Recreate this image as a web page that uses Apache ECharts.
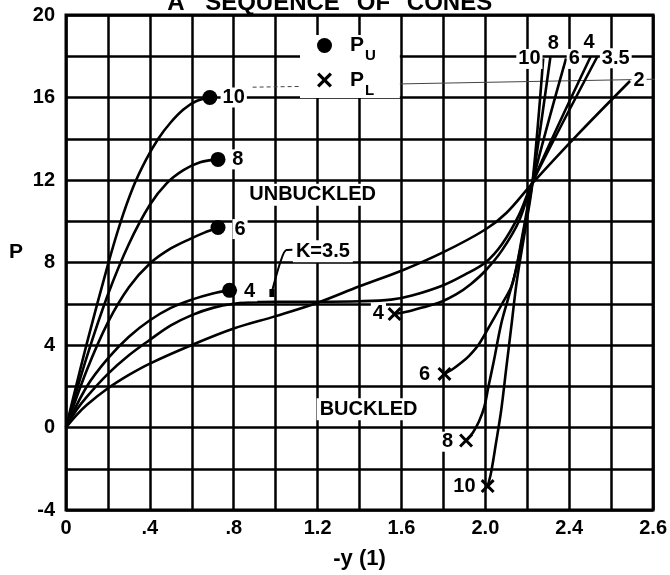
<!DOCTYPE html>
<html><head><meta charset="utf-8">
<script src="https://cdn.jsdelivr.net/npm/echarts@6/dist/echarts.min.js"></script>
<style>html,body{margin:0;padding:0;background:#fff}#c{width:670px;height:575px}</style>
</head><body><div id="c"></div>
<script>
// ---- tick labels (note: the original sheet prints "2.6" at the right edge) ----
const xTickLabels = ['0', '.4', '.8', '1.2', '1.6', '2.0', '2.4', '2.6'];
const yTickLabels = ['-4', '0', '4', '8', '12', '16', '20'];

// ---- upper (unbuckled) branches, ending at P_U ----
const k10Upper = [[0,0],[0.1,4.1],[0.2,7.9],[0.26,9.95],[0.32,11.65],[0.38,12.95],[0.44,14.0],[0.5,14.8],[0.56,15.42],[0.62,15.82],[0.686,16]];
const k8Upper  = [[0,0],[0.1,3.45],[0.2,6.45],[0.3,8.9],[0.4,10.8],[0.48,11.84],[0.56,12.48],[0.64,12.86],[0.725,13]];
const k6Upper  = [[0,0],[0.1,2.8],[0.2,5.1],[0.3,6.8],[0.4,7.95],[0.5,8.68],[0.6,9.18],[0.66,9.45],[0.725,9.7]];
const k4Upper  = [[0,0],[0.1,2.0],[0.2,3.35],[0.3,4.4],[0.4,5.2],[0.5,5.8],[0.6,6.2],[0.7,6.5],[0.78,6.65]];

// ---- lower (buckled) branches, starting at P_L ----
const k4Lower  = [[1.567,5.5],[1.63,5.62],[1.7,5.82],[1.79,6.1],[1.86,6.45],[1.93,6.95],[2.0,7.6],[2.08,8.6],[2.16,10.0],[2.225,11.9],[2.503,18.0]];
const k6Lower  = [[1.805,2.6],[1.84,2.8],[1.88,3.1],[1.92,3.45],[1.97,4.05],[2.03,5.1],[2.08,6.0],[2.13,7.0],[2.18,9.5],[2.225,11.9],[2.385,17.9]];
const k8Lower  = [[1.908,-0.63],[1.94,-0.25],[1.97,0.3],[1.995,1.0],[2.015,2.0],[2.04,3.2],[2.075,5.0],[2.11,6.3],[2.145,7.6],[2.185,9.6],[2.225,11.9],[2.31,17.95]];
const k10Lower = [[2.011,-2.84],[2.027,-2.2],[2.05,-0.8],[2.075,0.8],[2.1,2.9],[2.125,5.0],[2.15,7.1],[2.19,9.6],[2.225,11.9],[2.276,17.9]];

// ---- continuous curves ----
const k35Curve = [[0,0],[0.05,0.85],[0.1,1.5],[0.2,2.6],[0.3,3.5],[0.4,4.25],[0.5,4.95],[0.6,5.45],[0.7,5.8],[0.8,6.0],[0.9,6.08],[1.0,6.1],[1.2,6.1],[1.4,6.12],[1.55,6.2],[1.65,6.4],[1.8,6.9],[1.9,7.4],[2.0,8.0],[2.08,8.9],[2.16,10.3],[2.225,11.9],[2.535,18.0]];
const k2Curve  = [[0,0],[0.05,0.6],[0.1,1.1],[0.2,1.9],[0.3,2.55],[0.4,3.1],[0.6,4.0],[0.8,4.8],[1.0,5.4],[1.2,6.05],[1.4,6.85],[1.6,7.6],[1.8,8.5],[2.0,9.6],[2.1,10.4],[2.225,11.85],[2.44,14.2],[2.69,16.8]];

// ---- critical points ----
const puX = [0.686, 0.725, 0.725, 0.78];
const puY = [16, 13, 9.7, 6.65];
const plX = [1.567, 1.805, 1.908, 2.011];
const plY = [5.5, 2.6, -0.63, -2.84];

// ---- annotation texts ----
const curveLabelText = ['10','8','6','4','4','6','8','10','10','8','6','4','3.5','2'];
const curveLabelPos  = [[0.80,16.0],[0.82,13.0],[0.83,9.62],[0.876,6.6],[1.49,5.55],[1.71,2.55],[1.82,-0.69],[1.90,-2.86],[2.21,17.87],[2.324,18.6],[2.424,17.87],[2.495,18.65],[2.622,17.9],[2.733,16.83]];
const regionLabelText = ['UNBUCKLED', 'BUCKLED', 'K=3.5'];
const regionLabelPos  = [[1.176,11.29],[1.443,0.88],[1.225,8.55]];
const leaderK35 = [[1.08,8.62],[1.05,8.6],[1.025,8.1],[0.985,6.7]];
const leaderTip = [[0.982,6.52]];
const scanLineA = [[0.89,16.5],[1.2,16.55]];
const scanLineB = [[1.28,16.6],[2.876,16.9]];
const titleWords = ['A', 'SEQUENCE', 'OF', 'CONES'];

const FONT = 'Liberation Sans';
const xPath = 'path://M0,1.5L1.5,0L5,3.5L8.5,0L10,1.5L6.5,5L10,8.5L8.5,10L5,6.5L1.5,10L0,8.5L3.5,5Z';
const lineStyleCurve = { color: '#000', width: 2.6 };
const titleCenters = [176, 272.5, 373.5, 449.5];

function curve(data, extra) {
  return Object.assign({
    type: 'line', data: data, smooth: 0.35, symbol: 'none', silent: true,
    lineStyle: lineStyleCurve, z: 3, animation: false
  }, extra || {});
}
function zip(xs, ys) { return xs.map((x, i) => [x, ys[i]]); }

const labelBase = {
  show: true, position: 'inside', color: '#000', opacity: 1, fontFamily: FONT, fontWeight: 'bold',
  fontSize: 20, backgroundColor: '#fff', padding: [0, 2], formatter: p => p.name
};

const chart = echarts.init(document.getElementById('c'), null, { renderer: 'canvas' });
chart.setOption({
  animation: false,
  backgroundColor: '#fff',
  grid: { left: 66, right: 16, top: 15, bottom: 53, show: true, borderColor: '#000', borderWidth: 3 },
  xAxis: {
    type: 'value', min: 0, max: 2.8, interval: 0.2,
    axisLine: { show: false }, axisTick: { show: false },
    splitLine: { show: true, lineStyle: { color: '#000', width: 2.5 } },
    axisLabel: {
      color: '#000', fontFamily: FONT, fontWeight: 'bold', fontSize: 20, margin: 8,
      showMinLabel: true, showMaxLabel: true,
      formatter: v => { const i = Math.round(v / 0.2); return i % 2 ? '' : xTickLabels[i / 2]; }
    },
    name: '-y (1)', nameLocation: 'middle', nameGap: 38,
    nameTextStyle: { color: '#000', fontFamily: FONT, fontWeight: 'bold', fontSize: 22 }
  },
  yAxis: {
    type: 'value', min: -4, max: 20, interval: 2,
    axisLine: { show: false }, axisTick: { show: false },
    splitLine: { show: true, lineStyle: { color: '#000', width: 2.5 } },
    axisLabel: {
      color: '#000', fontFamily: FONT, fontWeight: 'bold', fontSize: 20, margin: 11,
      showMinLabel: true, showMaxLabel: true,
      formatter: v => { const i = Math.round((v + 4) / 2); return i % 2 ? '' : yTickLabels[i / 2]; }
    }
  },
  legend: {
    data: [{ name: 'PU', icon: 'circle' }, { name: 'PL', icon: xPath }],
    orient: 'vertical', left: 300, top: 35, padding: [0, 24, 0, 17],
    itemWidth: 15, itemHeight: 15, itemGap: 6,
    backgroundColor: '#fff', selectedMode: false,
    itemStyle: { opacity: 1 },
    formatter: n => '{p|P}{s|' + n.slice(1) + '}',
    textStyle: {
      color: '#000',
      rich: {
        p: { fontSize: 21, fontWeight: 'bold', fontFamily: FONT, lineHeight: 20, verticalAlign: 'middle', color: '#000', padding: [0, 0, 0, 13] },
        s: { fontSize: 15, fontWeight: 'bold', fontFamily: FONT, lineHeight: 14, padding: [13, 0, 0, 1], verticalAlign: 'top', color: '#000' }
      }
    }
  },
  graphic: [
    { type: 'text', left: 9, top: 242, style: { text: 'P', font: 'bold 21px "Liberation Sans"', fill: '#000' } }
  ].concat(titleWords.map((w, i) => ({
    type: 'text', x: titleCenters[i], y: 3,
    style: { text: w, font: 'bold 24px "Liberation Sans"', fill: '#000', align: 'center', verticalAlign: 'middle' }
  }))),
  series: [
    curve(scanLineA, { smooth: false, clip: false, z: 1, lineStyle: { color: '#444', width: 1, type: [4, 3] } }),
    curve(scanLineB, { smooth: false, clip: false, z: 1, lineStyle: { color: '#444', width: 1 } }),
    curve(k10Upper), curve(k8Upper), curve(k6Upper), curve(k4Upper),
    curve(k4Lower), curve(k6Lower), curve(k8Lower), curve(k10Lower),
    curve(k35Curve), curve(k2Curve),
    curve(leaderK35, { smooth: 0.3, lineStyle: { color: '#000', width: 2 } }),
    { type: 'scatter', data: leaderTip, symbol: 'rect', symbolSize: [5, 8], itemStyle: { color: '#000', opacity: 1 }, silent: true, z: 4 },
    { name: 'PU', type: 'scatter', data: zip(puX, puY), symbol: 'circle', symbolSize: 15, itemStyle: { color: '#000', opacity: 1 }, z: 4, silent: true },
    { name: 'PL', type: 'scatter', data: zip(plX, plY), symbol: xPath, symbolSize: 14, itemStyle: { color: '#000', opacity: 1 }, z: 4, silent: true },
    {
      type: 'scatter', symbolSize: 1, itemStyle: { color: 'rgba(0,0,0,0)', opacity: 1 }, silent: true, z: 6,
      data: curveLabelText.map((t, i) => ({ name: t, value: curveLabelPos[i] })),
      label: labelBase
    },
    {
      type: 'scatter', symbolSize: 1, itemStyle: { color: 'rgba(0,0,0,0)', opacity: 1 }, silent: true, z: 6,
      data: regionLabelText.map((t, i) => ({ name: t, value: regionLabelPos[i] })),
      label: Object.assign({}, labelBase, { padding: [1, 3] })
    }
  ]
});
</script>
</body></html>
